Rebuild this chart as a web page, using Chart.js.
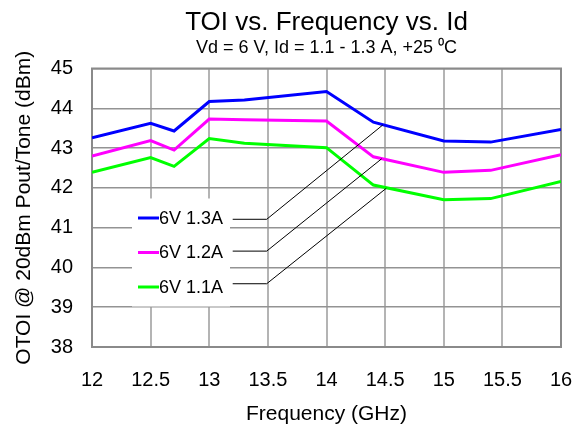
<!DOCTYPE html>
<html>
<head>
<meta charset="utf-8">
<script src="https://cdn.jsdelivr.net/npm/chart.js@4.4.0/dist/chart.umd.min.js"></script>
<style>
  html, body { margin: 0; padding: 0; background: #fff; }
  #wrap { width: 576px; height: 430px; }
</style>
</head>
<body>
<div id="wrap"><canvas id="toiChart" width="576" height="430"></canvas></div>
<script>
// Frequency points (GHz) and OTOI readings (dBm) for each bias
var freqs = [12, 12.5, 12.7, 13, 13.3, 14, 14.4, 15, 15.4, 16];
var toi13 = [43.26, 43.62, 43.43, 44.17, 44.21, 44.42, 43.65, 43.18, 43.15, 43.47];
var toi12 = [42.80, 43.19, 42.95, 43.73, 43.71, 43.68, 42.78, 42.39, 42.44, 42.83];
var toi11 = [42.39, 42.76, 42.54, 43.24, 43.12, 43.01, 42.07, 41.70, 41.73, 42.16];
var seriesNames = ['6V 1.3A', '6V 1.2A', '6V 1.1A'];
var seriesColors = ['#0000ff', '#ff00ff', '#00ff00'];
var xTicks = [12, 12.5, 13, 13.5, 14, 14.5, 15, 15.5, 16];
var yTicks = [38, 39, 40, 41, 42, 43, 44, 45];

// leader lines from the legend labels to the curves, in data units:
// [start freq, corner freq, level at label, end freq, end level]
var leaders = [
    [13.2, 13.49, 41.21, 14.48, 43.58],
    [13.2, 13.49, 40.41, 14.47, 42.73],
    [13.2, 13.49, 39.59, 14.51, 41.99]
];

var titleText = 'TOI vs. Frequency vs. Id';
var subTitleText = 'Vd = 6 V, Id = 1.1 - 1.3 A, +25 \u2070C';

var FONT = "'Liberation Sans', Arial, sans-serif";

function toPoints(ys) {
    return freqs.map(function (f, i) { return {x: f, y: ys[i]}; });
}

// titles, plot frame, legend box and leader lines
var decorPlugin = {
    id: 'decor',
    beforeDatasetsDraw: function (chart) {
        var ctx = chart.ctx, a = chart.chartArea;
        ctx.save();
        ctx.strokeStyle = '#8a8a8a';
        ctx.lineWidth = 2;
        ctx.strokeRect(a.left, a.top, a.right - a.left, a.bottom - a.top);
        ctx.restore();
    },
    afterDatasetsDraw: function (chart) {
        var ctx = chart.ctx, a = chart.chartArea;
        var xs = chart.scales.x, ys = chart.scales.y;
        ctx.save();

        // legend block inside the plot
        ctx.fillStyle = '#fff';
        ctx.fillRect(a.left + 40, a.top + 130, 98, 108);
        var rowY = [a.top + 149.5, a.top + 184, a.top + 218.5];
        ctx.font = '18px ' + FONT;
        ctx.textBaseline = 'middle';
        ctx.textAlign = 'left';
        for (var i = 0; i < seriesNames.length; i++) {
            ctx.strokeStyle = seriesColors[i];
            ctx.lineWidth = 3;
            ctx.beginPath();
            ctx.moveTo(a.left + 46, rowY[i]);
            ctx.lineTo(a.left + 67, rowY[i]);
            ctx.stroke();
            ctx.fillStyle = '#000';
            ctx.fillText(seriesNames[i], a.left + 67, rowY[i] + 1);
        }

        // leader lines
        ctx.strokeStyle = '#000';
        ctx.lineWidth = 1;
        leaders.forEach(function (l) {
            var yl = ys.getPixelForValue(l[2]);
            ctx.beginPath();
            ctx.moveTo(xs.getPixelForValue(l[0]), yl);
            ctx.lineTo(xs.getPixelForValue(l[1]), yl);
            ctx.lineTo(xs.getPixelForValue(l[3]), ys.getPixelForValue(l[4]));
            ctx.stroke();
        });

        // titles, centred over the plot area
        var cx = (a.left + a.right) / 2;
        ctx.fillStyle = '#000';
        ctx.textAlign = 'center';
        ctx.textBaseline = 'alphabetic';
        ctx.font = '26px ' + FONT;
        ctx.fillText(titleText, cx, 30);
        ctx.font = '18px ' + FONT;
        ctx.fillText(subTitleText, cx, 53);
        ctx.restore();
    }
};

var ctx = document.getElementById('toiChart').getContext('2d');
var myChart = new Chart(ctx, {
    type: 'line',
    data: {
        datasets: [
            {label: seriesNames[0], data: toPoints(toi13), borderColor: seriesColors[0]},
            {label: seriesNames[1], data: toPoints(toi12), borderColor: seriesColors[1]},
            {label: seriesNames[2], data: toPoints(toi11), borderColor: seriesColors[2]}
        ]
    },
    options: {
        responsive: false,
        animation: false,
        devicePixelRatio: 1,
        layout: {padding: {top: 68.5, right: 15, left: 0, bottom: 0}},
        elements: {
            line: {borderWidth: 3, tension: 0, fill: false},
            point: {radius: 0, hoverRadius: 0}
        },
        plugins: {
            legend: {display: false},
            tooltip: {enabled: false},
            title: {display: false}
        },
        scales: {
            x: {
                type: 'linear',
                min: 12,
                max: 16,
                afterBuildTicks: function (s) { s.ticks = xTicks.map(function (v) { return {value: v}; }); },
                afterFit: function (s) { s.height = 83; s.paddingLeft = 0; s.paddingRight = 0; },
                border: {display: false},
                grid: {color: '#b4b4b4', lineWidth: 2, drawTicks: false},
                ticks: {
                    color: '#000',
                    padding: 21,
                    maxRotation: 0,
                    font: {family: FONT, size: 20},
                    callback: function (v) { return String(v); }
                },
                title: {
                    display: true,
                    text: 'Frequency (GHz)',
                    color: '#000',
                    padding: {top: 0, bottom: 3},
                    font: {family: FONT, size: 21}
                }
            },
            y: {
                min: 38,
                max: 45,
                afterBuildTicks: function (s) { s.ticks = yTicks.map(function (v) { return {value: v}; }); },
                afterFit: function (s) { s.width = 92; },
                border: {display: false},
                grid: {color: '#939393', lineWidth: 1.5, drawTicks: false},
                ticks: {
                    color: '#000',
                    padding: 19,
                    font: {family: FONT, size: 20},
                    callback: function (v) { return String(v); }
                },
                title: {
                    display: true,
                    text: 'OTOI @ 20dBm Pout/Tone (dBm)',
                    color: '#000',
                    padding: {top: 12, bottom: 0},
                    font: {family: FONT, size: 21}
                }
            }
        }
    },
    plugins: [decorPlugin]
});
</script>
</body>
</html>
